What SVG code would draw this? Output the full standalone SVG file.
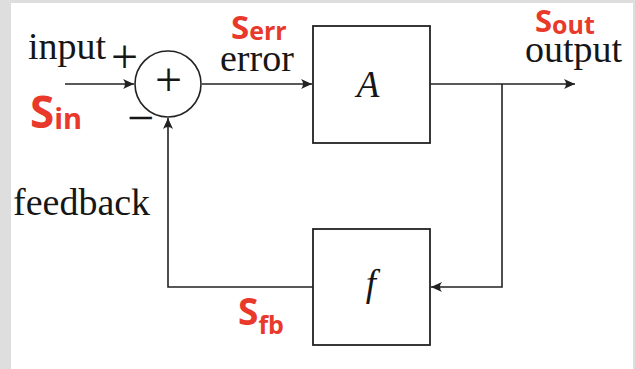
<svg xmlns="http://www.w3.org/2000/svg" width="635" height="369" viewBox="0 0 635 369">
<style>
.ln{fill:none;stroke:#222;stroke-width:1.6}
.box{fill:#fff;stroke:#222;stroke-width:1.8}
.t{font-family:"Liberation Serif","Times New Roman",serif;font-size:38px;fill:#161616}
.pm{font-family:"Liberation Serif","Times New Roman",serif;font-size:48px;fill:#161616}
.ti{font-family:"Liberation Serif","Times New Roman",serif;font-size:37px;font-style:italic;fill:#161616}
.r{font-family:"Open Sans","Liberation Sans",sans-serif;font-weight:700;fill:#e8392b}
</style>
<defs>
<marker id="ah" markerUnits="userSpaceOnUse" markerWidth="14" markerHeight="12" viewBox="-12 -6 14 12" refX="0" refY="0" orient="auto">
<path d="M0,0 L-11,-5 Q-7,0 -11,5 Z" fill="#222"/>
</marker>
</defs>
<rect x="0" y="0" width="635" height="369" fill="#dedede"/>
<rect x="11" y="3" width="622" height="366" fill="#fff"/>
<g id="connectors">
<path class="ln" d="M65,84 H134" marker-end="url(#ah)"/>
<path class="ln" d="M202,84 H312" marker-end="url(#ah)"/>
<path class="ln" d="M430,84 H575" marker-end="url(#ah)"/>
<path class="ln" d="M502,84 V287 H431" marker-end="url(#ah)"/>
<path class="ln" d="M313,287 H168 V118" marker-end="url(#ah)"/>
</g>
<g id="sum">
<circle cx="168" cy="84" r="33" fill="none" stroke="#222" stroke-width="1.6"/>
<text class="pm" x="168.5" y="96" text-anchor="middle" font-size="42">+</text>
</g>
<g id="A">
<rect class="box" x="313" y="26" width="117" height="117"/>
<text class="ti" x="368" y="97" text-anchor="middle">A</text>
</g>
<g id="f">
<rect class="box" x="313" y="229" width="117" height="116"/>
<text class="ti" x="371" y="296" text-anchor="middle">f</text>
</g>
<g id="labels">
<text class="t" x="28" y="59">input</text>
<text class="pm" x="111" y="73">+</text>
<text class="pm" x="127" y="134">−</text>
<text class="t" x="220" y="71">error</text>
<text class="t" x="525" y="62">output</text>
<text class="t" x="13" y="215">feedback</text>
</g>
<g id="signals">
<text class="r" x="231" y="39"><tspan font-size="33">S</tspan><tspan font-size="25" dy="1">err</tspan></text>
<text class="r" x="535" y="32"><tspan font-size="31">S</tspan><tspan font-size="25" dy="2">out</tspan></text>
<text class="r" x="30" y="128"><tspan font-size="44">S</tspan><tspan font-size="29" dy="1">in</tspan></text>
<text class="r" x="238" y="325"><tspan font-size="37">S</tspan><tspan font-size="25" dy="9">fb</tspan></text>
</g>
</svg>
